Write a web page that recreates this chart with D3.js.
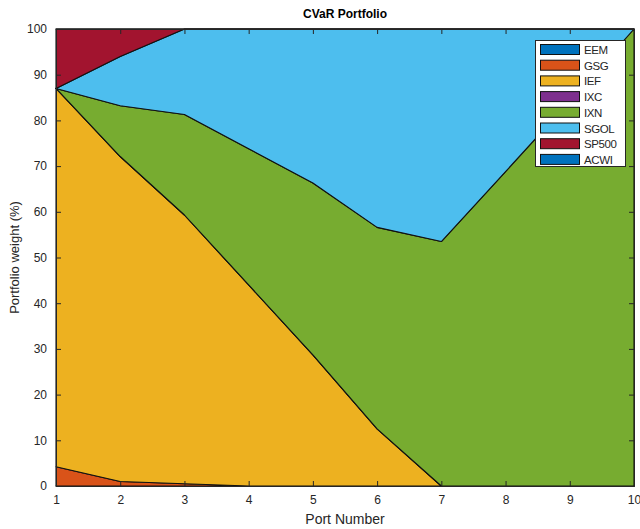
<!DOCTYPE html>
<html>
<head>
<meta charset="utf-8">
<script src="https://cdn.jsdelivr.net/npm/d3@7"></script>
<style>
  html, body { margin: 0; padding: 0; background: #fff; }
  svg { display: block; font-family: "Liberation Sans", Arial, Helvetica, sans-serif; }
</style>
</head>
<body>
<svg id="chart" width="640" height="529"></svg>
<script>
// ---- data ----
const ports = [1, 2, 3, 4, 5, 6, 7, 8, 9, 10];
const seriesNames = ["EEM", "GSG", "IEF", "IXC", "IXN", "SGOL", "SP500", "ACWI"];
const EEM   = [0, 0, 0, 0, 0, 0, 0, 0, 0, 0];
const GSG   = [4.2, 1.0, 0.5, 0, 0, 0, 0, 0, 0, 0];
const IEF   = [82.8, 71.1, 58.8, 44.0, 28.7, 12.5, 0, 0, 0, 0];
const IXC   = [0, 0, 0, 0, 0, 0, 0, 0, 0, 0];
const IXN   = [0, 11.1, 22.0, 29.8, 37.6, 44.1, 53.5, 68.8, 84.2, 100];
const SGOL  = [0, 10.8, 18.7, 26.2, 33.7, 43.4, 46.5, 31.2, 15.8, 0];
const SP500 = [13.0, 6.0, 0, 0, 0, 0, 0, 0, 0, 0];
const ACWI  = [0, 0, 0, 0, 0, 0, 0, 0, 0, 0];
const seriesColors = ["#0072BD", "#D95319", "#EDB120", "#7E2F8E", "#77AC30", "#4DBEEE", "#A2142F", "#0072BD"];
const yTicks = [0, 10, 20, 30, 40, 50, 60, 70, 80, 90, 100];
const xTicks = [1, 2, 3, 4, 5, 6, 7, 8, 9, 10];

const seriesValues = [EEM, GSG, IEF, IXC, IXN, SGOL, SP500, ACWI];
const table = ports.map((p, i) => {
  const row = { port: p };
  seriesNames.forEach((n, k) => row[n] = seriesValues[k][i]);
  return row;
});

// ---- layout ----
const svg = d3.select("#chart");
const mLeft = 56, mRight = 634, mTop = 29, mBottom = 486;
const x = d3.scaleLinear().domain([1, 10]).range([mLeft, mRight]);
const y = d3.scaleLinear().domain([0, 100]).range([mBottom, mTop]);

const stacked = d3.stack().keys(seriesNames)(table);

const area = d3.area()
  .x(d => x(d.data.port))
  .y0(d => y(d[0]))
  .y1(d => y(d[1]));

svg.append("g").selectAll("path")
  .data(stacked)
  .join("path")
  .attr("d", area)
  .attr("fill", (d, i) => seriesColors[i])
  .attr("stroke", "#111")
  .attr("stroke-width", 1.1)
  .attr("stroke-linejoin", "round");

// ---- axes (MATLAB style box, ticks inside) ----
const axColor = "#262626";
const tickLen = 5;
const gx = svg.append("g").attr("transform", `translate(0,${mBottom})`)
  .call(d3.axisBottom(x).tickValues(xTicks).tickFormat(d3.format("d")).tickSizeInner(-tickLen).tickSizeOuter(0).tickPadding(9));
const gxTop = svg.append("g").attr("transform", `translate(0,${mTop})`)
  .call(d3.axisTop(x).tickValues(xTicks).tickFormat("").tickSizeInner(-tickLen).tickSizeOuter(0));
const gy = svg.append("g").attr("transform", `translate(${mLeft},0)`)
  .call(d3.axisLeft(y).tickValues(yTicks).tickFormat(d3.format("d")).tickSizeInner(-tickLen).tickSizeOuter(0).tickPadding(9));
const gyR = svg.append("g").attr("transform", `translate(${mRight},0)`)
  .call(d3.axisRight(y).tickValues(yTicks).tickFormat("").tickSizeInner(-tickLen).tickSizeOuter(0));

[gx, gxTop, gy, gyR].forEach(g => {
  g.selectAll(".domain").attr("stroke", axColor).attr("stroke-width", 1);
  g.selectAll(".tick line").attr("stroke", axColor).attr("stroke-width", 1);
  g.selectAll(".tick text").attr("fill", axColor).attr("font-size", 12)
    .attr("font-family", "'Liberation Sans', Arial, sans-serif");
});

// ---- titles ----
svg.append("text")
  .attr("x", (mLeft + mRight) / 2).attr("y", 18)
  .attr("text-anchor", "middle")
  .attr("font-size", 12).attr("font-weight", "bold").attr("fill", "#000")
  .text("CVaR Portfolio");

svg.append("text")
  .attr("x", (mLeft + mRight) / 2).attr("y", 524)
  .attr("text-anchor", "middle")
  .attr("font-size", 14).attr("fill", axColor)
  .text("Port Number");

svg.append("text")
  .attr("transform", `translate(19,${(mTop + mBottom) / 2}) rotate(-90)`)
  .attr("text-anchor", "middle")
  .attr("font-size", 13).attr("fill", axColor)
  .text("Portfolio weight (%)");

// ---- legend ----
const lg = svg.append("g").attr("transform", "translate(535.5,40.5)");
lg.append("rect").attr("width", 90).attr("height", 126)
  .attr("fill", "#fff").attr("stroke", axColor).attr("stroke-width", 1);
const rowH = 15.7;
seriesNames.forEach((n, i) => {
  const ry = 4 + i * rowH;
  lg.append("rect").attr("x", 5).attr("y", ry).attr("width", 39).attr("height", 10)
    .attr("fill", seriesColors[i]).attr("stroke", "#111").attr("stroke-width", 1);
  lg.append("text").attr("x", 48.5).attr("y", ry + 9.5)
    .attr("font-size", 11.5).attr("fill", axColor).attr("letter-spacing", -0.4)
    .text(n);
});
</script>
</body>
</html>
